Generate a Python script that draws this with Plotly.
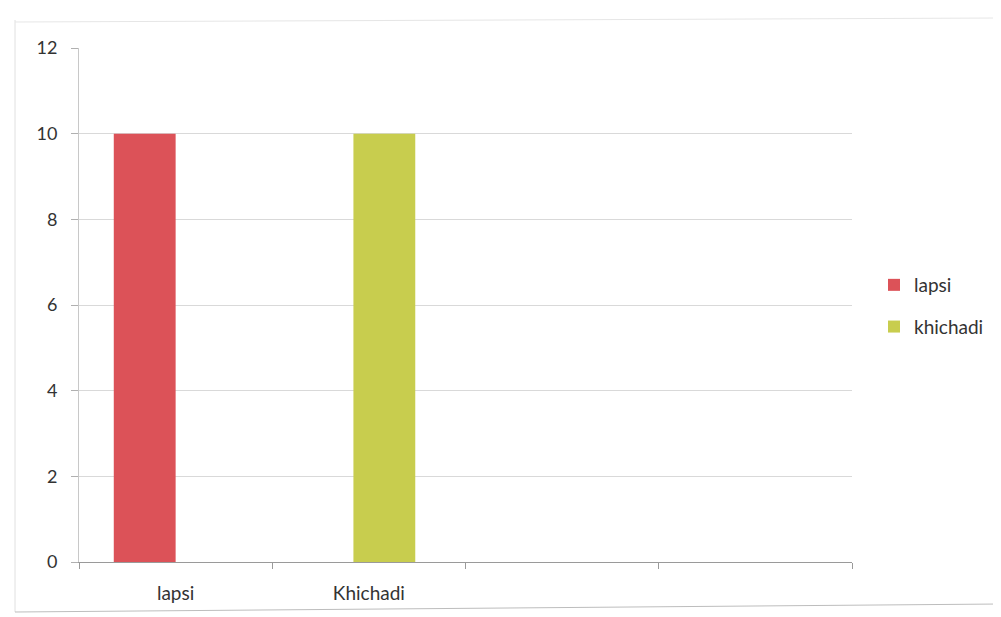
import plotly.graph_objects as go

categories = ["lapsi", "Khichadi", "", ""]
lapsi_values = [10, None, None, None]
khichadi_values = [None, 10, None, None]
y_ticks = [0, 2, 4, 6, 8, 10, 12]

positions = list(range(len(categories)))

OFF = 8  # page body margin
W, H = 1001 - OFF, 617 - OFF
L, R, T, B = 79 - OFF, 852 - OFF, 48 - OFF, 562 - OFF
pw, ph = R - L, B - T

def px(x):
    return (x - OFF - L) / pw

def py(y):
    return (B - (y - OFF)) / ph

fig = go.Figure()
fig.add_trace(go.Bar(name="lapsi", x=positions, y=lapsi_values,
                     width=0.32, offset=-0.32,
                     marker=dict(color="#dc5258", line=dict(width=0)),
                     legendgroup="a"))
fig.add_trace(go.Bar(name="khichadi", x=positions, y=khichadi_values,
                     width=0.32, offset=-0.08,
                     marker=dict(color="#c8cd4e", line=dict(width=0)),
                     legendgroup="b"))

fig.update_layout(
    width=W, height=H,
    margin=dict(l=L, r=W - R, t=T, b=H - B, pad=0),
    paper_bgcolor="white", plot_bgcolor="white",
    barmode="group",
    font=dict(family="Lato, Open Sans, sans-serif", size=18, color="#333333"),
    legend=dict(x=px(874), y=py(306), xanchor="left", yanchor="middle",
                traceorder="grouped", tracegroupgap=14,
                font=dict(size=19, color="#333333")),
    xaxis=dict(range=[-0.5, 3.5], tickvals=positions, ticktext=categories,
               showgrid=False, zeroline=False, showline=True,
               linecolor="#9a9a9a", linewidth=1,
               ticks="outside", ticklen=14, tickcolor="rgba(0,0,0,0)",
               tickfont=dict(size=19),
               minor=dict(tickmode="array", tickvals=[-0.5, 0.5, 1.5, 2.5, 3.5],
                          ticks="outside", ticklen=6, tickcolor="#9a9a9a",
                          showgrid=False)),
    yaxis=dict(range=[0, 12], tickvals=y_ticks, showgrid=True,
               gridcolor="#d9d9d9", gridwidth=1, zeroline=False,
               showline=True, linecolor="#c8c8c8", linewidth=1,
               ticks="outside", ticklen=7, tickcolor="#b0b0b0",
               ticklabelstandoff=10),
    shapes=[
        dict(type="line", xref="paper", yref="paper",
             x0=px(15), x1=px(15), y0=py(20), y1=py(612),
             line=dict(color="#e0e0e0", width=1)),
        dict(type="line", xref="paper", yref="paper",
             x0=px(15), x1=px(1001), y0=py(22), y1=py(18),
             line=dict(color="#e6e6e6", width=1)),
        dict(type="line", xref="paper", yref="paper",
             x0=px(15), x1=px(1001), y0=py(612), y1=py(604),
             line=dict(color="#bdbdbd", width=1)),
    ],
)

fig.write_html("out.html")
